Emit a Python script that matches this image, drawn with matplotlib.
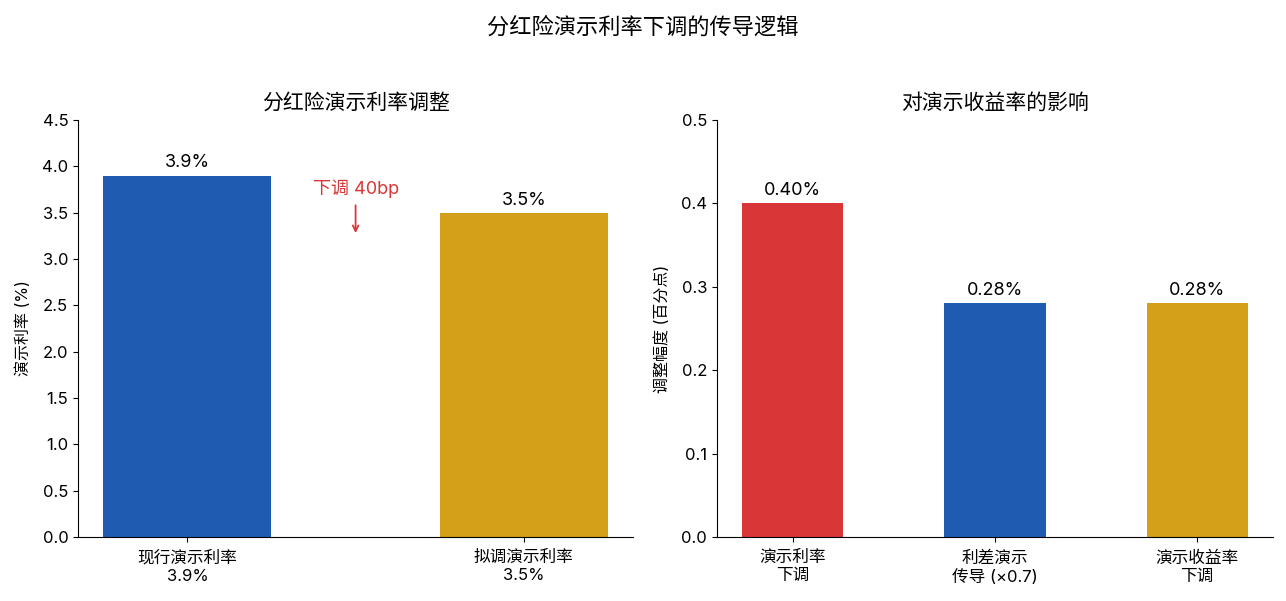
import matplotlib
matplotlib.use("Agg")
import matplotlib.pyplot as plt

plt.rcParams['font.family'] = ['Inter', 'Noto Sans CJK SC', 'DejaVu Sans']
plt.rcParams['axes.unicode_minus'] = False

# Data
left_categories = ["现行演示利率\n3.9%", "拟调演示利率\n3.5%"]
left_values = [3.9, 3.5]
left_labels = ["3.9%", "3.5%"]
right_categories = ["演示利率\n下调", "利差演示\n传导 (×0.7)", "演示收益率\n下调"]
right_values = [0.40, 0.28, 0.28]
right_labels = ["0.40%", "0.28%", "0.28%"]

BLUE = "#1f5bb0"
GOLD = "#d4a019"
RED = "#d93737"

fig = plt.figure(figsize=(12.86, 6.01), dpi=100)
ax1 = fig.add_axes([0.0607, 0.1065, 0.4316, 0.6938])
ax2 = fig.add_axes([0.5575, 0.1065, 0.4324, 0.6938])

fig.suptitle("分红险演示利率下调的传导逻辑", fontsize=16, y=0.973)

# Left
x1 = list(range(len(left_values)))
bars1 = ax1.bar(x1, left_values, width=0.5, color=[BLUE, GOLD])
ax1.set_ylim(0, 4.5)
ax1.set_yticks([0, 0.5, 1.0, 1.5, 2.0, 2.5, 3.0, 3.5, 4.0, 4.5])
ax1.set_xticks(x1)
ax1.set_xticklabels(left_categories, fontsize=12, linespacing=1.25)
ax1.set_ylabel("演示利率 (%)", fontsize=11.5, labelpad=8)
ax1.set_title("分红险演示利率调整", fontsize=15, pad=8)
ax1.bar_label(bars1, labels=left_labels, padding=3, fontsize=13)
ax1.text(0.5, 3.66, "下调 40bp", color=RED, fontsize=13, ha="center", va="bottom")
ax1.annotate("", xy=(0.5, 3.25), xytext=(0.5, 3.61),
             arrowprops=dict(arrowstyle="->", color=RED, lw=1.3))

# Right
x2 = list(range(len(right_values)))
bars2 = ax2.bar(x2, right_values, width=0.5, color=[RED, BLUE, GOLD])
ax2.set_ylim(0, 0.5)
ax2.set_yticks([0, 0.1, 0.2, 0.3, 0.4, 0.5])
ax2.set_xticks(x2)
ax2.set_xticklabels(right_categories, fontsize=12, linespacing=1.25)
ax2.set_ylabel("调整幅度 (百分点)", fontsize=11.5, labelpad=8)
ax2.set_title("对演示收益率的影响", fontsize=15, pad=8)
ax2.bar_label(bars2, labels=right_labels, padding=3, fontsize=13)

for ax in (ax1, ax2):
    ax.spines['top'].set_visible(False)
    ax.spines['right'].set_visible(False)
    ax.tick_params(axis='y', labelsize=12)
    ax.tick_params(axis='x', pad=6)

fig.savefig("out.png", dpi=100)
